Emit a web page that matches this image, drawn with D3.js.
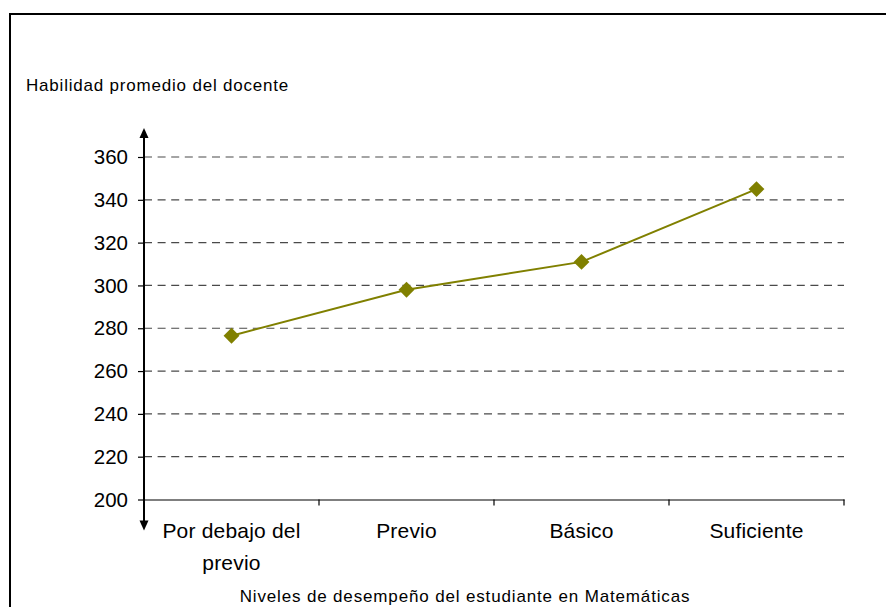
<!DOCTYPE html>
<html>
<head>
<meta charset="utf-8">
<script src="https://cdn.jsdelivr.net/npm/d3@7"></script>
<style>
  body { margin: 0; background: #fff; }
  svg { display: block; font-family: Arial, "Liberation Sans", sans-serif; }
</style>
</head>
<body>
<svg id="chart" width="886" height="607"></svg>
<script>
// Teacher mean ability by student performance level in Mathematics
const categories = [["Por debajo del", "previo"], ["Previo"], ["Básico"], ["Suficiente"]];
const values = [276.5, 298, 311, 345];
const yTicks = [200, 220, 240, 260, 280, 300, 320, 340, 360];
const yTitle = "Habilidad promedio del docente";
const xTitle = "Niveles de desempeño del estudiante en Matemáticas";

const svg = d3.select("#chart");

// outer frame (runs past the right and bottom edges)
svg.append("rect")
  .attr("x", 10).attr("y", 14).attr("width", 900).attr("height", 620)
  .attr("fill", "none").attr("stroke", "#000").attr("stroke-width", 2);

const plotLeft = 144, plotRight = 844, plotTop = 157, plotBottom = 499.5;

const x = d3.scaleBand().domain(d3.range(categories.length)).range([plotLeft, plotRight]).padding(0);
const y = d3.scaleLinear().domain([200, 360]).range([plotBottom, plotTop]);

// dashed gridlines
svg.append("g").selectAll("line")
  .data(yTicks.filter(t => t > 200))
  .join("line")
  .attr("x1", plotLeft).attr("x2", plotRight)
  .attr("y1", d => y(d)).attr("y2", d => y(d))
  .attr("stroke", "#4a4a4a").attr("stroke-width", 1.2)
  .attr("stroke-dasharray", "8,5.6");

// x axis
const xAxis = d3.axisBottom(x).tickSize(0).tickFormat("");
const gx = svg.append("g").attr("transform", `translate(0,${plotBottom})`).call(xAxis);
gx.select(".domain").attr("stroke", "#555").attr("stroke-width", 1.5);
// category boundary ticks
svg.append("g").selectAll("line")
  .data(d3.range(categories.length + 1))
  .join("line")
  .attr("x1", i => plotLeft + i * x.bandwidth()).attr("x2", i => plotLeft + i * x.bandwidth())
  .attr("y1", plotBottom).attr("y2", plotBottom + 6)
  .attr("stroke", "#000").attr("stroke-width", 1.2);

// category labels
const lab = svg.append("g").selectAll("text")
  .data(categories)
  .join("text")
  .attr("x", (d, i) => x(i) + x.bandwidth() / 2)
  .attr("y", plotBottom + 38)
  .attr("text-anchor", "middle")
  .attr("font-size", 21)
  .attr("letter-spacing", 0.2)
  .attr("fill", "#000");
lab.selectAll("tspan")
  .data(d => d)
  .join("tspan")
  .attr("x", function() { return this.parentNode.getAttribute("x"); })
  .attr("dy", (d, j) => j === 0 ? 0 : 32)
  .text(d => d);

// y axis with labels
const yAxis = d3.axisLeft(y).tickValues(yTicks).tickSize(6).tickPadding(10).tickFormat(d3.format("d"));
const gy = svg.append("g").attr("transform", `translate(${plotLeft},0)`).call(yAxis);
gy.select(".domain").remove();
gy.selectAll(".tick line").attr("stroke", "#000").attr("stroke-width", 1.2);
gy.selectAll(".tick text").attr("font-size", 20.5).attr("fill", "#000")
  .attr("font-family", "Arial, 'Liberation Sans', sans-serif");

// vertical axis line with arrowheads at both ends
const arrowTop = plotTop - 29, arrowBottom = plotBottom + 31;
svg.append("line")
  .attr("x1", plotLeft).attr("x2", plotLeft)
  .attr("y1", arrowTop + 8).attr("y2", arrowBottom - 8)
  .attr("stroke", "#000").attr("stroke-width", 2);
svg.append("path")
  .attr("d", `M${plotLeft},${arrowTop} L${plotLeft + 4.5},${arrowTop + 10} L${plotLeft - 4.5},${arrowTop + 10} Z`)
  .attr("fill", "#000");
svg.append("path")
  .attr("d", `M${plotLeft},${arrowBottom} L${plotLeft + 4.5},${arrowBottom - 10} L${plotLeft - 4.5},${arrowBottom - 10} Z`)
  .attr("fill", "#000");

// data line
const line = d3.line()
  .x((d, i) => x(i) + x.bandwidth() / 2)
  .y(d => y(d));
svg.append("path")
  .datum(values)
  .attr("d", line)
  .attr("fill", "none")
  .attr("stroke", "#808000")
  .attr("stroke-width", 2);

// diamond markers
svg.append("g").selectAll("path")
  .data(values)
  .join("path")
  .attr("transform", (d, i) => `translate(${x(i) + x.bandwidth() / 2},${y(d)}) rotate(45)`)
  .attr("d", "M-5.6,-5.6 L5.6,-5.6 L5.6,5.6 L-5.6,5.6 Z")
  .attr("fill", "#808000");

// titles
svg.append("text")
  .attr("x", 26).attr("y", 91)
  .attr("font-size", 17).attr("letter-spacing", 0.8).attr("fill", "#000")
  .text(yTitle);
svg.append("text")
  .attr("x", 465).attr("y", 602)
  .attr("text-anchor", "middle")
  .attr("font-size", 17).attr("letter-spacing", 0.85).attr("fill", "#000")
  .text(xTitle);
</script>
</body>
</html>
